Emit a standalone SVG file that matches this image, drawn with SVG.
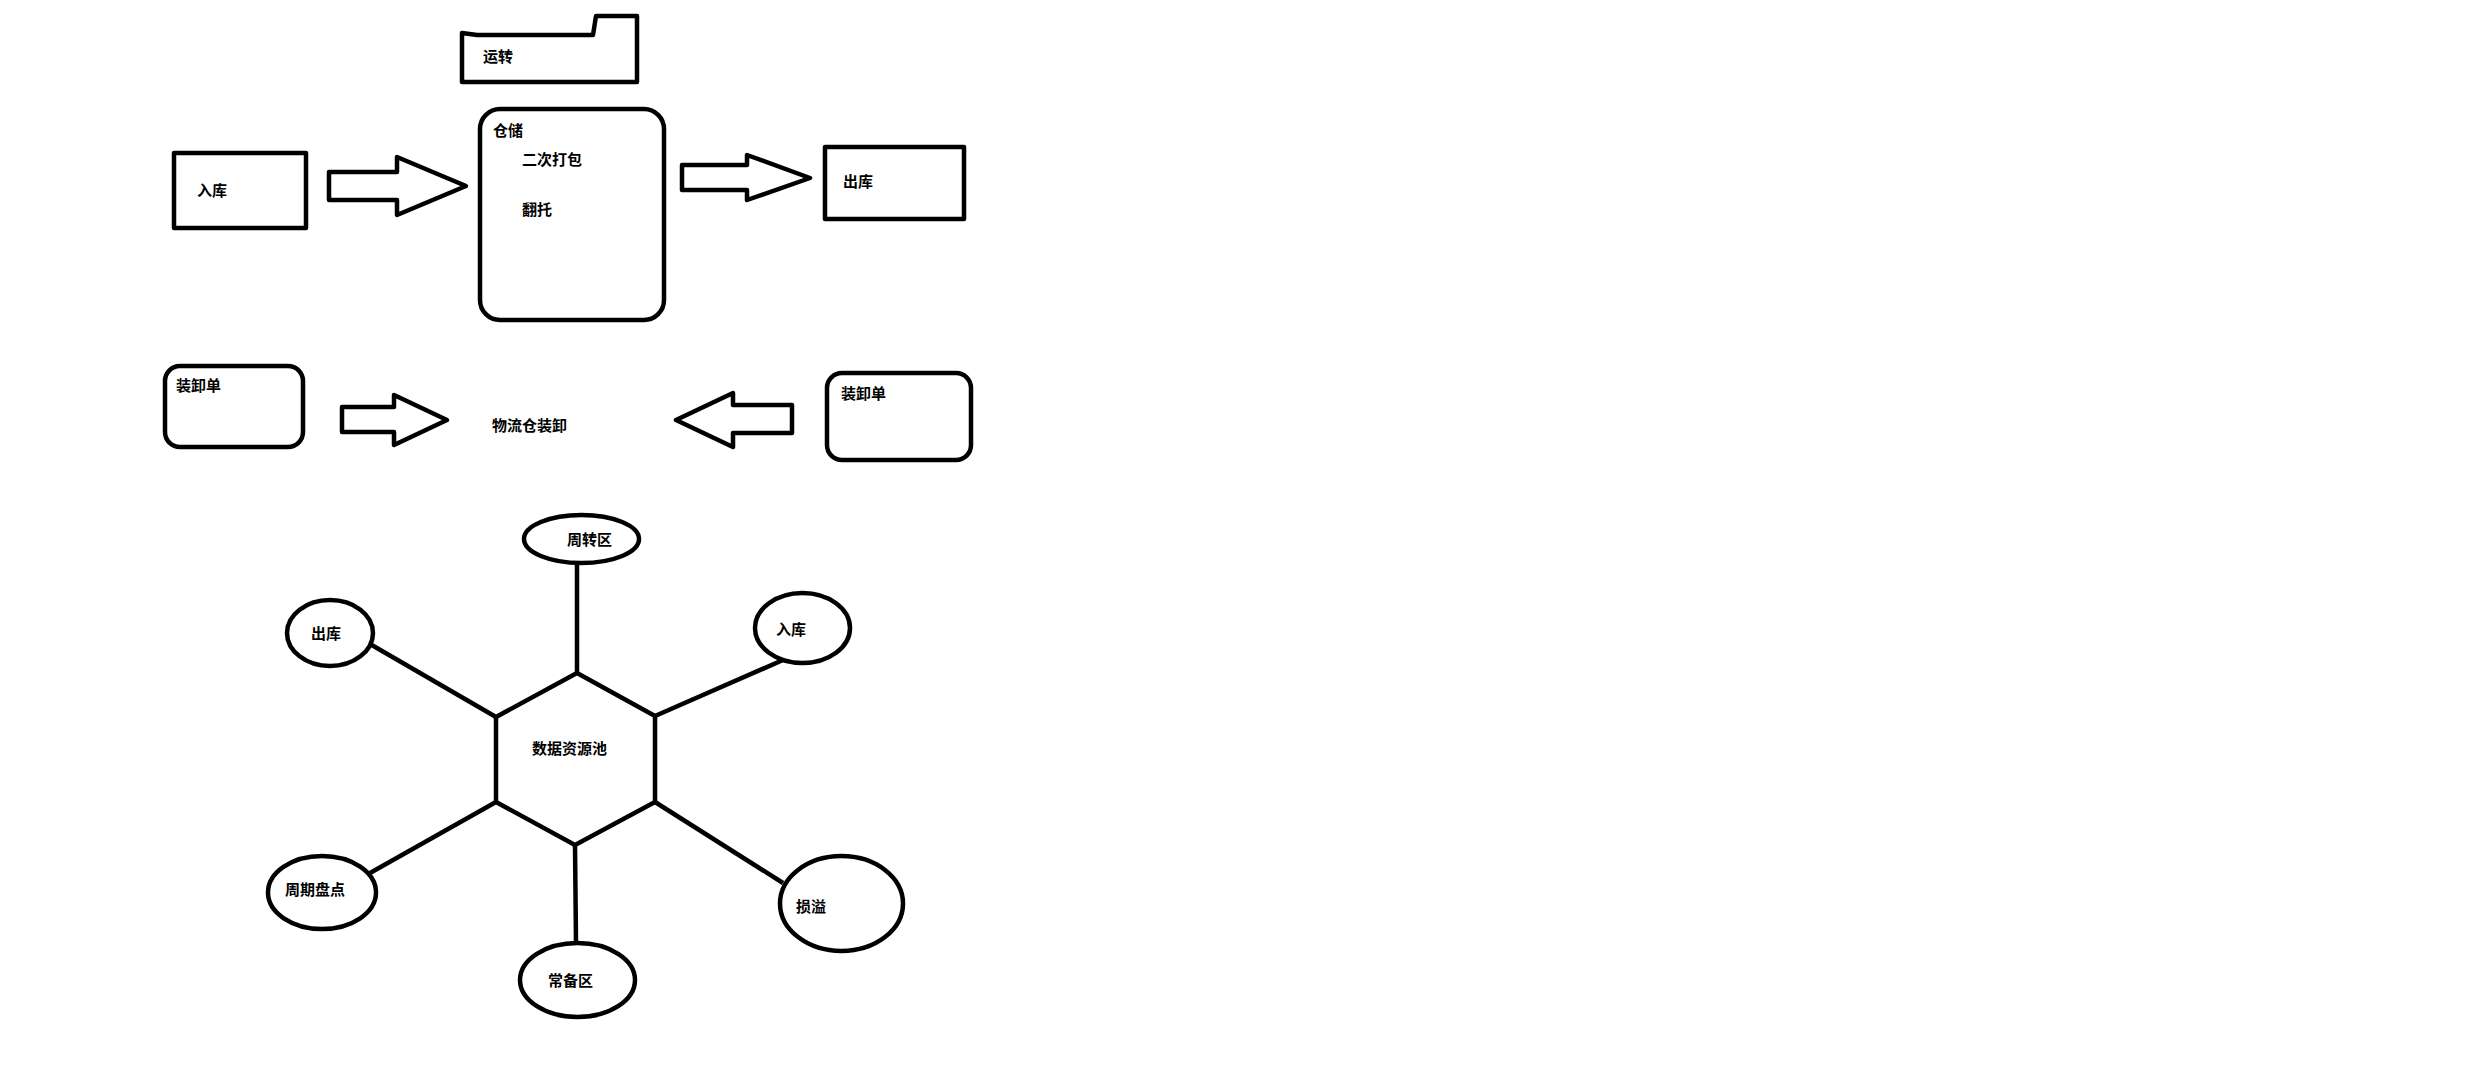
<svg xmlns="http://www.w3.org/2000/svg" width="2486" height="1066" viewBox="0 0 2486 1066">
<style>
.s{fill:none;stroke:#000;stroke-width:4.5;stroke-linejoin:round}
.l{stroke:#000;stroke-width:4.5;fill:none}
text{font-family:"Noto Sans CJK SC","Microsoft YaHei",sans-serif;font-size:15px;font-weight:bold;fill:#000}
</style>
<rect width="2486" height="1066" fill="#fff"/>
<g id="yunzhuan">
<path class="s" d="M462,33 L477,35 L593,35 L596,16 L637,16 L637,82 L462,82 Z"/>
<text x="483" y="62">运转</text>
</g>
<g id="ruku">
<rect class="s" x="174" y="153" width="132" height="75"/>
<text x="197" y="196">入库</text>
</g>
<g id="cangchu">
<rect class="s" x="480" y="109" width="184" height="211" rx="20" ry="20"/>
<text x="493" y="136">仓储</text>
<text x="522" y="165">二次打包</text>
<text x="522" y="215">翻托</text>
</g>
<g id="chuku">
<rect class="s" x="825" y="147" width="139" height="72"/>
<text x="843" y="187">出库</text>
</g>
<g id="zxd1">
<rect class="s" x="165" y="366" width="138" height="81" rx="15" ry="15"/>
<text x="176" y="391">装卸单</text>
</g>
<g id="wlczx">
<text x="492" y="431">物流仓装卸</text>
</g>
<g id="zxd2">
<rect class="s" x="827" y="373" width="144" height="87" rx="15" ry="15"/>
<text x="841" y="399">装卸单</text>
</g>
<g id="hex">
<polygon class="s" points="577,673 655,716 655,802 575,845 496,802 496,717"/>
<text x="532" y="754">数据资源池</text>
</g>
<g id="zhouzhuanqu">
<ellipse class="s" cx="581.5" cy="539" rx="57.5" ry="24"/>
<text x="567" y="545">周转区</text>
</g>
<g id="chuku2">
<ellipse class="s" cx="330" cy="633" rx="43" ry="33"/>
<text x="311" y="639">出库</text>
</g>
<g id="ruku2">
<ellipse class="s" cx="802.5" cy="628" rx="47.5" ry="35"/>
<text x="776" y="635">入库</text>
</g>
<g id="zhouqipandian">
<ellipse class="s" cx="322" cy="892.5" rx="54" ry="36.5"/>
<text x="285" y="895">周期盘点</text>
</g>
<g id="changbeiqu">
<ellipse class="s" cx="577.5" cy="980" rx="57.5" ry="37"/>
<text x="548" y="986">常备区</text>
</g>
<g id="sunyi">
<ellipse class="s" cx="841.5" cy="903.5" rx="61.5" ry="47.5"/>
<text x="796" y="912">损溢</text>
</g>
<g id="connectors">
<path class="s" d="M329,172 L397,172 L397,157 L466,186 L397,215 L397,200 L329,200 Z"/>
<path class="s" d="M682,165 L747,165 L747,155 L810,178 L747,200 L747,190 L682,190 Z"/>
<path class="s" d="M342,407 L394,407 L394,395 L447,420 L394,445 L394,432 L342,432 Z"/>
<path class="s" d="M792,405 L733,405 L733,393 L676,420 L733,447 L733,433 L792,433 Z"/>
<line class="l" x1="577" y1="563" x2="577" y2="673"/>
<line class="l" x1="370" y1="644" x2="496" y2="717"/>
<line class="l" x1="655" y1="716" x2="783" y2="660"/>
<line class="l" x1="496" y1="802" x2="370" y2="873"/>
<line class="l" x1="575" y1="845" x2="576" y2="943"/>
<line class="l" x1="655" y1="802" x2="783" y2="883"/>
</g>
</svg>
